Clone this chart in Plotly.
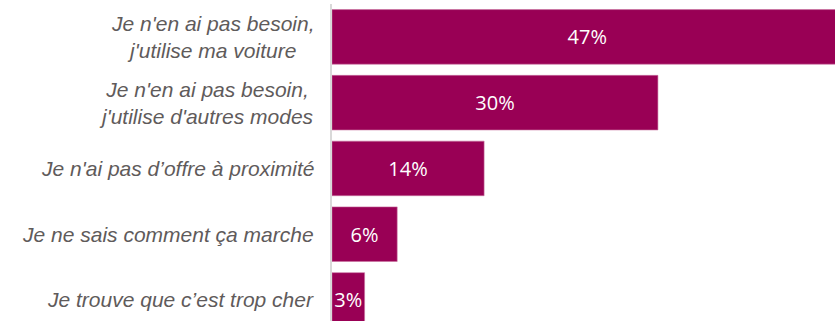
import plotly.graph_objects as go

# reasons for not using the service, share of answers in %
reasons = [
    "Je n'en ai pas besoin,<br>j'utilise ma voiture",
    "Je n'en ai pas besoin,<br>j'utilise d'autres modes",
    "Je n'ai pas d’offre à proximité",
    "Je ne sais comment ça marche",
    "Je trouve que c’est trop cher",
]
shares = [47, 30, 14, 6, 3]
labels = [f"{v}%" for v in shares]

bar_color = "#990055"
label_grey = "#5f5b5b"

fig = go.Figure()
fig.add_trace(go.Bar(
    y=list(range(len(reasons))),
    x=shares,
    orientation="h",
    width=0.83,
    marker=dict(color=bar_color, line=dict(color="#c9709f", width=0.6)),
    text=labels,
    textposition="inside",
    insidetextanchor="middle",
    textangle=0,
    constraintext="none",
    textfont=dict(family="Open Sans", size=20, color="white"),
    hoverinfo="skip",
))

# category labels: centred multi-line blocks right-aligned next to the axis
for i, r in enumerate(reasons):
    fig.add_annotation(
        x=0, xref="paper", xanchor="right", xshift=-16,
        y=i, yref="y", yanchor="middle",
        text=r, showarrow=False, align="center",
        font=dict(family="Liberation Sans", size=21, color=label_grey, style="italic"),
    )

fig.update_layout(
    width=835, height=321,
    margin=dict(l=332, r=0, t=4, b=0),
    paper_bgcolor="white", plot_bgcolor="white",
    showlegend=False,
    bargap=0.17,
)
fig.update_xaxes(range=[0, 46.3], visible=False, fixedrange=True)
fig.update_yaxes(
    range=[4.32, -0.5], showticklabels=False, showgrid=False, zeroline=False,
    showline=True, linecolor="#d9d9d9", linewidth=2, ticks="", fixedrange=True,
)

fig.write_html(
    "out.html",
    config={"displayModeBar": False},
    post_script="document.body.style.margin='0';",
)
